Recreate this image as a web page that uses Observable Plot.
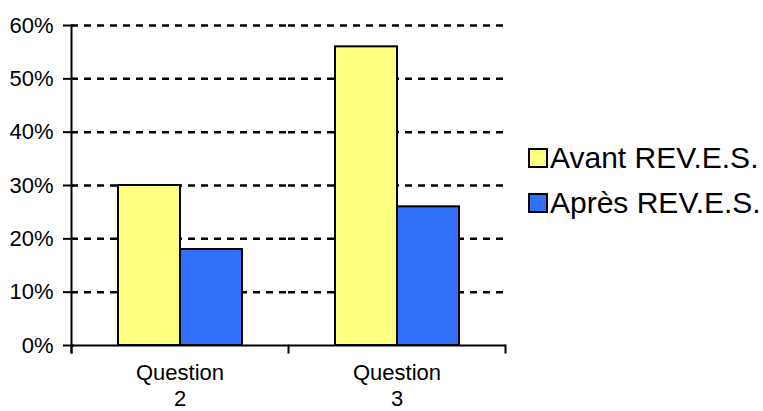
<!DOCTYPE html>
<html><head><meta charset="utf-8">
<script src="https://cdn.jsdelivr.net/npm/d3@7"></script>
<script src="https://cdn.jsdelivr.net/npm/@observablehq/plot@0.6"></script>
<style>
body{margin:0;background:#fff;font-family:"Liberation Sans",Arial,sans-serif;}
#wrap{position:relative;width:763px;height:411px;}
#chart{position:absolute;left:0;top:0;}
#legend{position:absolute;left:528px;top:135px;}
.row{display:flex;align-items:center;height:45px;font-size:30px;color:#000;white-space:nowrap;}
.sw{width:16px;height:16px;border:2px solid #000;margin-right:2px;box-sizing:content-box;}
</style></head><body>
<div id="wrap"><div id="chart"></div><div id="legend"></div></div>
<script>
const questions = ["Question 2", "Question 3"];
const series = ["Avant REV.E.S.", "Après REV.E.S."];
const avant = [0.30, 0.56];
const apres = [0.18, 0.26];
const colors = ["#FFFF80", "#3070F8"];
const yTicks = [0, 0.1, 0.2, 0.3, 0.4, 0.5, 0.6];

const data = questions.flatMap((q, i) => [
  {q, s: series[0], v: avant[i]},
  {q, s: series[1], v: apres[i]}
]);

const plot = Plot.plot({
  width: 520, height: 411,
  marginLeft: 70, marginRight: 15, marginTop: 25, marginBottom: 66,
  style: {fontFamily: '"Liberation Sans", Arial, sans-serif', fontSize: "21px", color: "black", background: "white"},
  fx: {domain: questions, padding: 0},
  x: {domain: series, paddingInner: 0, paddingOuter: 0.74, axis: null},
  y: {domain: [0, 0.6]},
  color: {domain: series, range: colors},
  marks: [
    Plot.gridY(yTicks.slice(1), {stroke: "black", strokeOpacity: 1, strokeWidth: 2.5, strokeDasharray: "7,6"}),
    Plot.barY(data, {fx: "q", x: "s", y: "v", fill: "s", stroke: "black", strokeWidth: 2}),
    Plot.ruleY([0], {stroke: "black", strokeWidth: 2}),
    Plot.frame({anchor: "left", facetAnchor: "left", stroke: "black", strokeWidth: 2, insetBottom: -7}),
    Plot.frame({anchor: "left", stroke: "black", strokeWidth: 2, insetTop: 320, insetBottom: -7}),
    Plot.frame({anchor: "right", facetAnchor: "right", stroke: "black", strokeWidth: 2, insetTop: 320, insetBottom: -7}),
    Plot.axisY(yTicks, {tickSize: 0, tickPadding: 18, tickFormat: d3.format(".0%"), fontSize: 22, label: null}),
    Plot.axisY(yTicks, {tickSize: 11, dx: 3, tickFormat: () => "", strokeWidth: 2, label: null}),
    Plot.axisFx({anchor: "bottom", tickSize: 0, tickPadding: 17, tickFormat: d => d.replace(" ", "\n"), fontSize: 22, lineHeight: 1.15, label: null})
  ]
});
document.getElementById("chart").append(plot);

const legend = document.getElementById("legend");
series.forEach((s, i) => {
  const row = document.createElement("div");
  row.className = "row";
  const sw = document.createElement("div");
  sw.className = "sw";
  sw.style.background = colors[i];
  const t = document.createElement("span");
  t.textContent = s;
  row.append(sw, t);
  legend.append(row);
});
</script>
</body></html>
